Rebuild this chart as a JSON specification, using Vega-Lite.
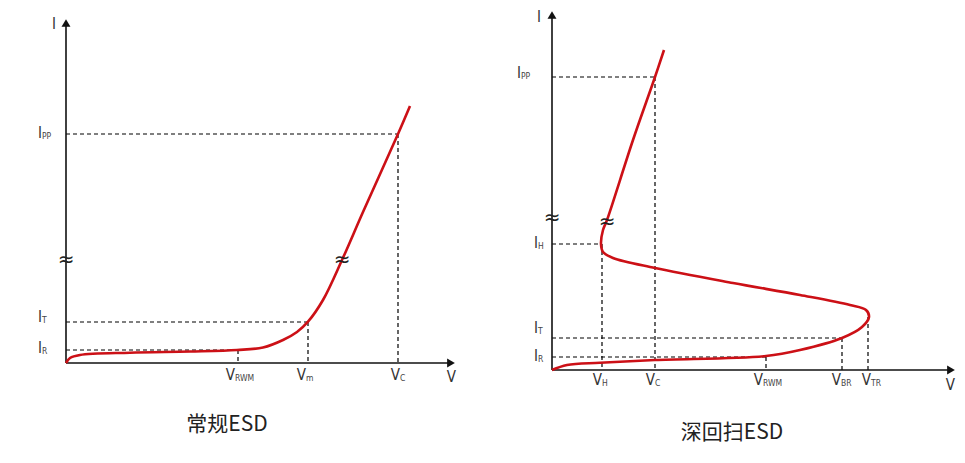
{
  "$schema": "https://vega.github.io/schema/vega-lite/v6.json",
  "width": 965,
  "height": 463,
  "autosize": {"type": "fit", "contains": "padding"},
  "padding": 0,
  "background": "white",
  "config": {"view": {"stroke": null}},
  "datasets": {
    "curves": [
      {"panel": "L", "ord": 0, "x": 66, "y": 100},
      {"panel": "L", "ord": 1, "x": 70, "y": 105},
      {"panel": "L", "ord": 2, "x": 80, "y": 108},
      {"panel": "L", "ord": 3, "x": 130, "y": 110.3},
      {"panel": "L", "ord": 4, "x": 190, "y": 111.5},
      {"panel": "L", "ord": 5, "x": 237, "y": 113},
      {"panel": "L", "ord": 6, "x": 263, "y": 115.5},
      {"panel": "L", "ord": 7, "x": 283, "y": 123},
      {"panel": "L", "ord": 8, "x": 297, "y": 131},
      {"panel": "L", "ord": 9, "x": 308, "y": 141.3},
      {"panel": "L", "ord": 10, "x": 323, "y": 163},
      {"panel": "L", "ord": 11, "x": 342, "y": 203},
      {"panel": "L", "ord": 12, "x": 363, "y": 251},
      {"panel": "L", "ord": 13, "x": 398, "y": 329},
      {"panel": "L", "ord": 14, "x": 410, "y": 357},
      {"panel": "R", "ord": 0, "x": 552, "y": 93},
      {"panel": "R", "ord": 1, "x": 567, "y": 98},
      {"panel": "R", "ord": 2, "x": 600, "y": 100.3},
      {"panel": "R", "ord": 3, "x": 655, "y": 103},
      {"panel": "R", "ord": 4, "x": 766, "y": 107},
      {"panel": "R", "ord": 5, "x": 800, "y": 113},
      {"panel": "R", "ord": 6, "x": 842, "y": 125},
      {"panel": "R", "ord": 7, "x": 862, "y": 136},
      {"panel": "R", "ord": 8, "x": 869, "y": 146},
      {"panel": "R", "ord": 9, "x": 866, "y": 153},
      {"panel": "R", "ord": 10, "x": 850, "y": 158},
      {"panel": "R", "ord": 11, "x": 800, "y": 168},
      {"panel": "R", "ord": 12, "x": 733, "y": 180},
      {"panel": "R", "ord": 13, "x": 655, "y": 195},
      {"panel": "R", "ord": 14, "x": 613, "y": 205},
      {"panel": "R", "ord": 15, "x": 603, "y": 211},
      {"panel": "R", "ord": 16, "x": 601, "y": 219},
      {"panel": "R", "ord": 17, "x": 603, "y": 233},
      {"panel": "R", "ord": 18, "x": 607, "y": 243},
      {"panel": "R", "ord": 19, "x": 633, "y": 323},
      {"panel": "R", "ord": 20, "x": 655, "y": 386},
      {"panel": "R", "ord": 21, "x": 664, "y": 413}
    ],
    "axes": [
      {"x": 66, "y": 100, "x2": 66, "y2": 440},
      {"x": 66, "y": 100, "x2": 450, "y2": 100},
      {"x": 552, "y": 93, "x2": 552, "y2": 448},
      {"x": 552, "y": 93, "x2": 950, "y2": 93}
    ],
    "arrows": [
      {"x": 66, "y": 440, "dir": "up"},
      {"x": 451, "y": 100, "dir": "right"},
      {"x": 552, "y": 448, "dir": "up"},
      {"x": 951, "y": 93, "dir": "right"}
    ],
    "guides": [
      {"x": 66, "y": 329, "x2": 398, "y2": 329},
      {"x": 398, "y": 329, "x2": 398, "y2": 100},
      {"x": 66, "y": 141, "x2": 308, "y2": 141},
      {"x": 308, "y": 141, "x2": 308, "y2": 100},
      {"x": 66, "y": 113, "x2": 238, "y2": 113},
      {"x": 238, "y": 113, "x2": 238, "y2": 100},
      {"x": 552, "y": 386, "x2": 655, "y2": 386},
      {"x": 655, "y": 386, "x2": 655, "y2": 93},
      {"x": 552, "y": 219, "x2": 602, "y2": 219},
      {"x": 602, "y": 219, "x2": 602, "y2": 93},
      {"x": 552, "y": 125, "x2": 842, "y2": 125},
      {"x": 842, "y": 125, "x2": 842, "y2": 93},
      {"x": 868, "y": 146, "x2": 868, "y2": 93},
      {"x": 552, "y": 106, "x2": 766, "y2": 106},
      {"x": 766, "y": 106, "x2": 766, "y2": 93}
    ],
    "labels": [
      {"x": 56, "y": 439, "main": "I", "sub": ""},
      {"x": 456, "y": 86, "main": "V", "sub": ""},
      {"x": 42, "y": 330, "main": "I", "sub": "PP"},
      {"x": 42, "y": 146, "main": "I", "sub": "T"},
      {"x": 42, "y": 115, "main": "I", "sub": "R"},
      {"x": 235, "y": 88, "main": "V", "sub": "RWM"},
      {"x": 306, "y": 88, "main": "V", "sub": "m"},
      {"x": 400, "y": 88, "main": "V", "sub": "C"},
      {"x": 541, "y": 446, "main": "I", "sub": ""},
      {"x": 955, "y": 78, "main": "V", "sub": ""},
      {"x": 521, "y": 390, "main": "I", "sub": "PP"},
      {"x": 538, "y": 220, "main": "I", "sub": "H"},
      {"x": 538, "y": 135, "main": "I", "sub": "T"},
      {"x": 538, "y": 107, "main": "I", "sub": "R"},
      {"x": 602, "y": 83, "main": "V", "sub": "H"},
      {"x": 655, "y": 83, "main": "V", "sub": "C"},
      {"x": 763, "y": 83, "main": "V", "sub": "RWM"},
      {"x": 841, "y": 83, "main": "V", "sub": "BR"},
      {"x": 871, "y": 83, "main": "V", "sub": "TR"}
    ],
    "breaks": [
      {"x": 66, "y": 203},
      {"x": 342, "y": 203},
      {"x": 552, "y": 245},
      {"x": 607, "y": 241}
    ],
    "captions": [
      {"x": 227, "y": 38, "text": "常规ESD"},
      {"x": 732, "y": 30, "text": "深回扫ESD"}
    ]
  },
  "layer": [
    {
      "data": {"name": "guides"},
      "mark": {"type": "rule", "color": "#000", "strokeWidth": 1.2, "strokeDash": [4, 3]},
      "encoding": {
        "x": {"field": "x", "type": "quantitative", "scale": {"domain": [0, 965], "nice": false, "zero": false}, "axis": null},
        "y": {"field": "y", "type": "quantitative", "scale": {"domain": [0, 463], "nice": false, "zero": false}, "axis": null},
        "x2": {"field": "x2"},
        "y2": {"field": "y2"}
      }
    },
    {
      "data": {"name": "axes"},
      "mark": {"type": "rule", "color": "#111", "strokeWidth": 1.6},
      "encoding": {
        "x": {"field": "x", "type": "quantitative"},
        "y": {"field": "y", "type": "quantitative"},
        "x2": {"field": "x2"},
        "y2": {"field": "y2"}
      }
    },
    {
      "data": {"name": "arrows"},
      "mark": {"type": "point", "filled": true, "color": "#111", "size": 80, "opacity": 1},
      "encoding": {
        "x": {"field": "x", "type": "quantitative"},
        "y": {"field": "y", "type": "quantitative"},
        "shape": {"field": "dir", "type": "nominal", "scale": {"domain": ["up", "right"], "range": ["triangle-up", "triangle-right"]}, "legend": null}
      }
    },
    {
      "data": {"name": "curves"},
      "mark": {"type": "line", "color": "#cc1016", "strokeWidth": 2.6, "interpolate": "catmull-rom"},
      "encoding": {
        "x": {"field": "x", "type": "quantitative"},
        "y": {"field": "y", "type": "quantitative"},
        "detail": {"field": "panel", "type": "nominal"},
        "order": {"field": "ord", "type": "quantitative"}
      }
    },
    {
      "data": {"name": "breaks"},
      "mark": {"type": "text", "text": "≈", "fontSize": 20, "color": "#222", "align": "center", "baseline": "middle", "font": "DejaVu Sans"},
      "encoding": {
        "x": {"field": "x", "type": "quantitative"},
        "y": {"field": "y", "type": "quantitative"}
      }
    },
    {
      "data": {"name": "labels"},
      "mark": {"type": "text", "fontSize": 15, "color": "#333", "align": "right", "baseline": "middle", "font": "Liberation Sans Narrow, DejaVu Sans Condensed, sans-serif"},
      "encoding": {
        "x": {"field": "x", "type": "quantitative"},
        "y": {"field": "y", "type": "quantitative"},
        "text": {"field": "main"}
      }
    },
    {
      "data": {"name": "labels"},
      "mark": {"type": "text", "fontSize": 8.5, "dy": 3, "color": "#444", "align": "left", "baseline": "middle", "font": "Liberation Sans Narrow, DejaVu Sans Condensed, sans-serif"},
      "encoding": {
        "x": {"field": "x", "type": "quantitative"},
        "y": {"field": "y", "type": "quantitative"},
        "text": {"field": "sub"}
      }
    },
    {
      "data": {"name": "captions"},
      "mark": {"type": "text", "fontSize": 21, "color": "#222", "align": "center", "baseline": "middle", "font": "Noto Sans CJK SC"},
      "encoding": {
        "x": {"field": "x", "type": "quantitative"},
        "y": {"field": "y", "type": "quantitative"},
        "text": {"field": "text"}
      }
    }
  ]
}
